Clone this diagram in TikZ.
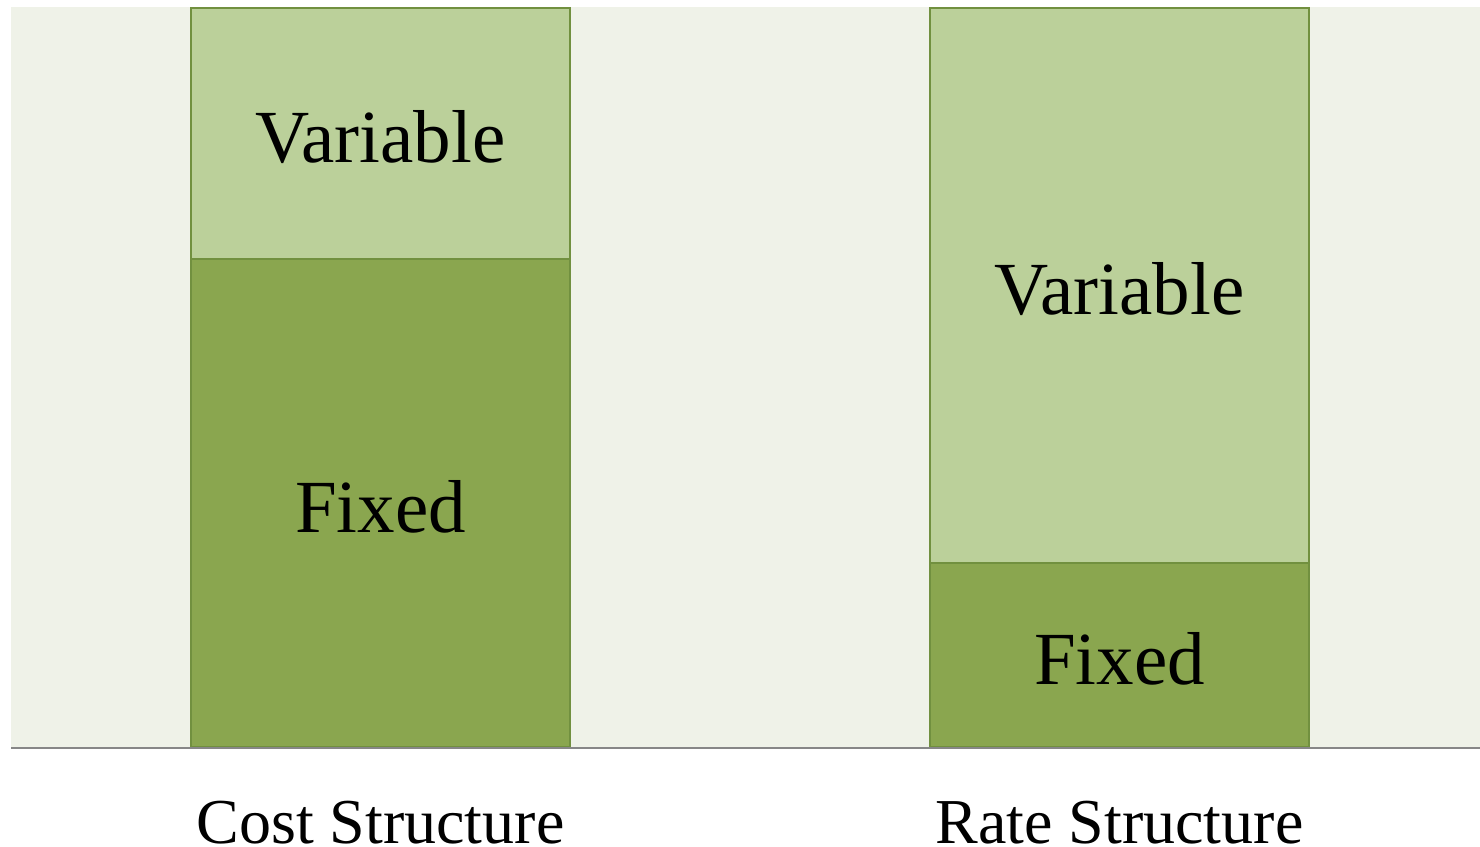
\documentclass[tikz,border=0pt]{standalone}
\usepackage{fontspec}
\setmainfont{Liberation Serif}
\definecolor{plotbg}{HTML}{EFF2E8}
\definecolor{varfill}{HTML}{BBD09A}
\definecolor{fixfill}{HTML}{8AA64F}
\definecolor{barline}{HTML}{71903F}
\definecolor{axisline}{HTML}{878787}
\tikzset{
  seg/.style={draw=barline, line width=1.2pt, inner sep=0pt, outer sep=0pt},
  varseg/.style={seg, fill=varfill},
  fixseg/.style={seg, fill=fixfill},
  inlabel/.style={font=\fontsize{75}{75}\selectfont, text=black, anchor=base},
  catlabel/.style={font=\fontsize{64}{64}\selectfont, text=black, anchor=base,
    inner sep=0pt, text depth=0pt}
}
\begin{document}
\begin{tikzpicture}[x=1pt, y=-1pt]
  \useasboundingbox (0,0) rectangle (1480,846);
  % plot area
  \fill[plotbg] (11,7) rectangle (1480,747);
  % cost structure bar
  \draw[varseg] (191,8) rectangle (570,259);
  \draw[fixseg] (191,259) rectangle (570,747);
  % rate structure bar
  \draw[varseg] (930,8) rectangle (1309,563);
  \draw[fixseg] (930,563) rectangle (1309,747);
  % axis
  \draw[axisline, line width=2pt] (11,748) -- (1480,748);
  % segment labels
  \node[inlabel] (cv) at (380.5,162) {Variable};
  \node[inlabel] (cf) at (380.5,532) {Fixed};
  \node[inlabel] (rv) at (1119.5,314) {Variable};
  \node[inlabel] (rf) at (1119.5,684) {Fixed};
  % category labels
  \node[catlabel] (cs) at (380.5,843) {Cost Structure};
  \node[catlabel] (rs) at (1119.5,843) {Rate Structure};
\end{tikzpicture}
\end{document}
